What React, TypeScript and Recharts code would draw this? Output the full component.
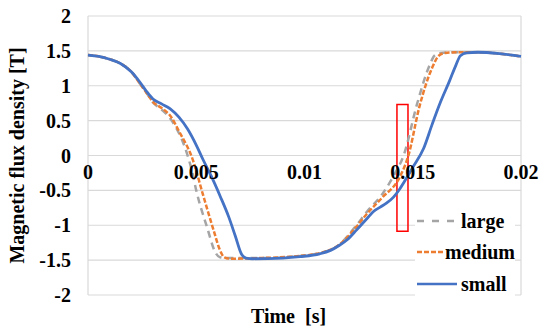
import React from 'react';
import { LineChart, Line, XAxis, YAxis, CartesianGrid, Legend, ReferenceArea, ReferenceDot } from 'recharts';

const xTicks = [0, 0.005, 0.01, 0.015, 0.02];
const xTickLabels = ['0', '0.005', '0.01', '0.015', '0.02'];
const yTicks = [-2, -1.5, -1, -0.5, 0, 0.5, 1, 1.5, 2];

const largeT = [0, 0.0005, 0.001, 0.0015, 0.002, 0.0024, 0.0027, 0.003, 0.0034, 0.0038, 0.0041, 0.00435, 0.00457, 0.0048, 0.005, 0.0055, 0.0059, 0.0061, 0.0064, 0.008, 0.0098, 0.0107, 0.0116, 0.0124, 0.0129, 0.0136, 0.0141, 0.0146, 0.0152, 0.0158, 0.016, 0.0163, 0.017, 0.018, 0.019, 0.02];
const largeV = [1.44, 1.42, 1.38, 1.32, 1.2, 1.03, 0.9, 0.76, 0.66, 0.53, 0.38, 0.22, 0.03, -0.22, -0.5, -1.03, -1.4, -1.46, -1.47, -1.47, -1.44, -1.4, -1.28, -1.0, -0.8, -0.55, -0.3, 0.02, 0.74, 1.31, 1.43, 1.47, 1.48, 1.48, 1.46, 1.42];

const mediumT = [0, 0.0005, 0.001, 0.0015, 0.002, 0.0024, 0.0027, 0.003, 0.0034, 0.0038, 0.0042, 0.00485, 0.0053, 0.0058, 0.0061, 0.0063, 0.0066, 0.008, 0.0098, 0.0107, 0.0116, 0.0124, 0.0129, 0.0136, 0.0144, 0.0148, 0.0153, 0.0159, 0.0162, 0.0165, 0.017, 0.018, 0.019, 0.02];
const mediumV = [1.44, 1.42, 1.38, 1.32, 1.2, 1.03, 0.9, 0.77, 0.68, 0.57, 0.35, -0.07, -0.55, -1.07, -1.36, -1.46, -1.48, -1.47, -1.44, -1.4, -1.28, -1.02, -0.83, -0.6, -0.31, 0.0, 0.69, 1.26, 1.43, 1.47, 1.48, 1.48, 1.46, 1.42];

const smallT = [0, 0.0005, 0.001, 0.0015, 0.002, 0.0024, 0.0027, 0.003, 0.0034, 0.0038, 0.0042, 0.0046, 0.005, 0.0053, 0.0057, 0.0061, 0.0065, 0.0068, 0.0071, 0.0073, 0.0076, 0.009, 0.0098, 0.0107, 0.0112, 0.0116, 0.012, 0.0124, 0.0129, 0.0132, 0.0135, 0.0138, 0.0141, 0.0144, 0.0147, 0.015, 0.0155, 0.0159, 0.0163, 0.0167, 0.017, 0.0172, 0.0175, 0.018, 0.019, 0.02];
const smallV = [1.44, 1.42, 1.38, 1.32, 1.2, 1.05, 0.92, 0.81, 0.74, 0.67, 0.55, 0.38, 0.15, -0.05, -0.3, -0.58, -0.88, -1.15, -1.42, -1.47, -1.48, -1.47, -1.45, -1.41, -1.36, -1.29, -1.2, -1.07, -0.9, -0.8, -0.74, -0.68, -0.6, -0.48, -0.33, -0.17, 0.1, 0.45, 0.78, 1.07, 1.3, 1.43, 1.47, 1.48, 1.46, 1.42];

const boxX = [0.01427, 0.01478];
const boxY = [-1.086, 0.73];

const zip = (t: number[], v: number[]) => t.map((x, i) => ({ t: x, v: v[i] }));
const largeData = zip(largeT, largeV);
const mediumData = zip(mediumT, mediumV);
const smallData = zip(smallT, smallV);

const FONT = "'Liberation Serif', serif";

const seriesStyle: Record<string, { color: string; dash?: string; legendDash?: string }> = {
  large: { color: '#a5a5a5', dash: '7 5', legendDash: '7 8' },
  medium: { color: '#ed7d31', dash: '5 2', legendDash: '5 2' },
  small: { color: '#4472c4' },
};

const LegendContent = (props: any) => {
  const payload = props.payload || [];
  return (
    <div style={{ background: '#fff', padding: '2px 0' }}>
      {payload.map((p: any) => {
        const s = seriesStyle[p.value] || { color: p.color };
        return (
          <div key={p.value} style={{ display: 'flex', alignItems: 'center', height: 31.5 }}>
            <svg width={44} height={10} style={{ display: 'block' }}>
              <line x1={2} y1={5} x2={42} y2={5} stroke={s.color} strokeWidth={2.5} strokeDasharray={s.legendDash} />
            </svg>
            <span style={{ fontFamily: FONT, fontWeight: 'bold', fontSize: 20, color: '#000', marginLeft: 2, lineHeight: '20px' }}>{p.value}</span>
          </div>
        );
      })}
    </div>
  );
};

export default function App() {
  return (
    <div style={{ position: 'absolute', left: 0, top: 0, background: '#fff', fontFamily: FONT }}>
      <LineChart width={550} height={333} margin={{ top: 16, right: 29, left: 0, bottom: 0 }} style={{ fontFamily: FONT }}>
        <CartesianGrid stroke="#d9d9d9" strokeWidth={1.2} />
        <XAxis
          type="number"
          dataKey="t"
          domain={[0, 0.02]}
          ticks={xTicks}
          tick={false}
          tickLine={false}
          axisLine={false}
          height={38}
          allowDuplicatedCategory={false}
          label={{
            content: (p: any) => {
              const vb = p.viewBox;
              return (
                <text x={vb.x + vb.width / 2 - 16} y={vb.y + 23} textAnchor="middle" dominantBaseline="middle" style={{ fontFamily: FONT }} fontWeight="bold" fontSize={20} fill="#000">
                  {'Time\u00a0\u00a0[s]'}
                </text>
              );
            },
          }}
        />
        <YAxis
          type="number"
          domain={[-2, 2]}
          ticks={yTicks}
          width={88}
          tickLine={false}
          axisLine={false}
          tickSize={0}
          tickMargin={17}
          tick={{ style: { fontFamily: FONT }, fontWeight: 'bold', fontSize: 20, fill: '#000' }}
          label={{
            content: (p: any) => {
              const vb = p.viewBox;
              const cx = vb.x + 19;
              const cy = vb.y + vb.height / 2;
              return (
                <text x={cx} y={cy} transform={`rotate(-90 ${cx} ${cy})`} textAnchor="middle" dominantBaseline="middle" style={{ fontFamily: FONT }} fontWeight="bold" fontSize={20} fill="#000">
                  Magnetic flux density [T]
                </text>
              );
            },
          }}
        />
        {xTicks.map((t, i) => (
          <ReferenceDot
            key={t}
            x={t}
            y={0}
            r={0}
            fill="none"
            stroke="none"
            ifOverflow="visible"
            label={{ value: xTickLabels[i], position: 'bottom', offset: 9, style: { fontFamily: FONT }, fontWeight: 'bold', fontSize: 20, fill: '#000' }}
          />
        ))}
        <Line data={largeData} dataKey="v" name="large" type="monotone" stroke={seriesStyle.large.color} strokeWidth={2.5} strokeDasharray={seriesStyle.large.dash} dot={false} isAnimationActive={false} />
        <Line data={mediumData} dataKey="v" name="medium" type="monotone" stroke={seriesStyle.medium.color} strokeWidth={2.5} strokeDasharray={seriesStyle.medium.dash} dot={false} isAnimationActive={false} />
        <Line data={smallData} dataKey="v" name="small" type="monotone" stroke={seriesStyle.small.color} strokeWidth={2.8} dot={false} isAnimationActive={false} />
        <ReferenceArea x1={boxX[0]} x2={boxX[1]} y1={boxY[0]} y2={boxY[1]} fill="none" fillOpacity={0} stroke="#ff0000" strokeWidth={1.5} ifOverflow="visible" />
        <Legend
          layout="vertical"
          align="center"
          verticalAlign="middle"
          content={LegendContent}
          wrapperStyle={{ position: 'absolute', left: 415, top: 203, width: 100 }}
        />
      </LineChart>
    </div>
  );
}
